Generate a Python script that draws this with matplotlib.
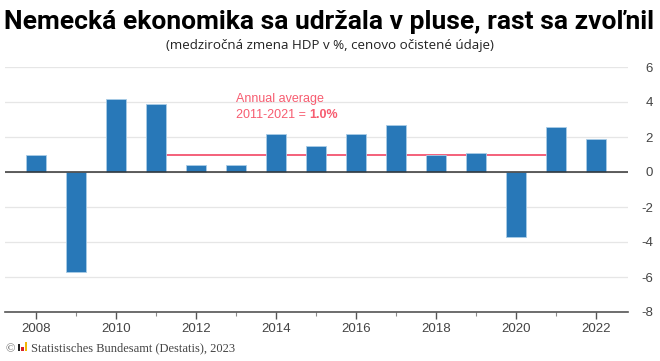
import matplotlib
matplotlib.use('Agg')
import matplotlib.pyplot as plt
from matplotlib.patches import Rectangle

years = [2008, 2009, 2010, 2011, 2012, 2013, 2014, 2015, 2016, 2017, 2018, 2019, 2020, 2021, 2022]
growth = [1.0, -5.7, 4.2, 3.9, 0.4, 0.4, 2.2, 1.5, 2.2, 2.7, 1.0, 1.1, -3.7, 2.6, 1.9]
avg_years = [2011, 2021]
avg_values = [1.0, 1.0]
y_ticks = [-8, -6, -4, -2, 0, 2, 4, 6]
y_labels = ['-8', '-6', '-4', '-2', '0', '2', '4', '6']
x_ticks = [2008, 2010, 2012, 2014, 2016, 2018, 2020, 2022]

W, H = 660, 361
plt.rcParams['font.family'] = ['Liberation Sans', 'DejaVu Sans']

fig = plt.figure(figsize=(W / 100, H / 100), dpi=100)
ax = fig.add_axes([5 / W, 1 - 312 / H, 623 / W, 245 / H])

ax.bar(years, growth, width=0.5, color='#2878b8', edgecolor='#a9cce6', linewidth=0.6, zorder=3)
ax.plot(avg_years, avg_values, color='#f4607a', lw=1.4, zorder=2)
ax.axhline(0, color='#333333', lw=1.1, zorder=4)

ax.set_xlim(2007.225, 2022.8)
ax.set_ylim(-8, 6)
ax.set_yticks(y_ticks)
ax.set_yticklabels(y_labels, ha='right')
ax.set_xticks(x_ticks)
ax.set_xticks(years, minor=True)
ax.yaxis.tick_right()
ax.grid(axis='y', color='#e6e6e6', lw=0.9, zorder=0)
ax.set_axisbelow(True)
ax.tick_params(axis='y', length=0, pad=18, labelsize=9.5, labelcolor='#444444')
ax.tick_params(axis='x', which='major', length=5, width=1, color='#555555', pad=3, labelsize=9.5, labelcolor='#444444')
ax.tick_params(axis='x', which='minor', length=3, width=0.8, color='#888888')
for s in ['top', 'left', 'right']:
    ax.spines[s].set_visible(False)
ax.spines['bottom'].set_color('#555555')
ax.spines['bottom'].set_linewidth(1.2)

title = fig.text(329.5 / W, 1 - 22 / H, 'Nemecká ekonomika sa udržala v pluse, rast sa zvoľnil',
                 ha='center', va='center', fontsize=20, fontweight='bold', family='Roboto', color='black')
fig.canvas.draw()
# shrink title to the 645 px it takes in the original
title.set_fontsize(20 * 645 / title.get_window_extent().width)
fig.text(330 / W, 1 - 46 / H, '(medziročná zmena HDP v %, cenovo očistené údaje)',
         ha='center', va='center', fontsize=9.6, family='Open Sans', color='#222222')

fig.text(236 / W, 1 - 99 / H, 'Annual average', ha='left', va='center', fontsize=9, color='#f75c70')
t = fig.text(236 / W, 1 - 115 / H, '2011-2021 = ', ha='left', va='center', fontsize=9, color='#f75c70')
fig.canvas.draw()
bb = t.get_window_extent()
fig.text(bb.x1 / W, 1 - 115 / H, '1.0%', ha='left', va='center', fontsize=9, fontweight='bold', color='#f75c70')

# footer with the little Destatis logo
fig.text(5 / W, 1 - 349 / H, '©', ha='left', va='center', fontsize=9, family='Liberation Serif', color='#555555')
for x, h, c in [(17.5, 7, '#222222'), (21, 4, '#d8232a'), (24.5, 9, '#f2b705')]:
    fig.add_artist(Rectangle((x / W, 1 - 351 / H), 2.8 / W, h / H, transform=fig.transFigure, color=c, lw=0))
fig.text(31 / W, 1 - 348 / H, 'Statistisches Bundesamt (Destatis), 2023', ha='left', va='center',
         fontsize=9, family='Liberation Serif', color='#444444')

fig.savefig('out.png', dpi=100)
